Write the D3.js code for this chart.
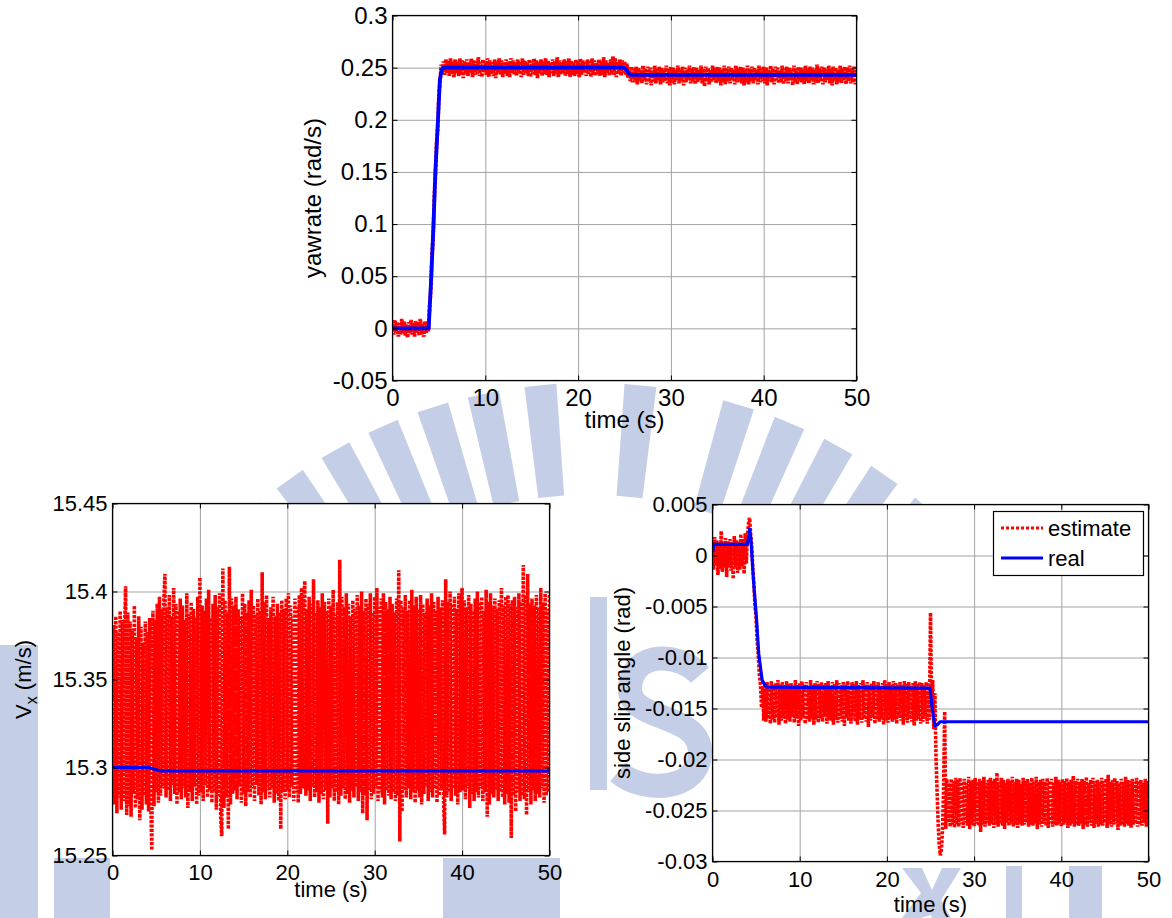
<!DOCTYPE html>
<html>
<head>
<meta charset="utf-8">
<script src="https://cdn.jsdelivr.net/npm/d3@7"></script>
<style>
  body { margin: 0; background: #fff; }
  svg { display: block; }
  text { font-family: Arial, "Liberation Sans", sans-serif; fill: #000; }
</style>
</head>
<body>
<svg id="fig" width="1172" height="918"></svg>
<script>
// ---- tick values ----
const timeTicks = [0, 10, 20, 30, 40, 50];
const yawTicks = [-0.05, 0, 0.05, 0.1, 0.15, 0.2, 0.25, 0.3];
const vxTicks = [15.25, 15.3, 15.35, 15.4, 15.45];
const slipTicks = [-0.03, -0.025, -0.02, -0.015, -0.01, -0.005, 0, 0.005];

// estimates are sampled every 0.125 s from 0 to 50 s (one row = 2 s)

// ---- yaw rate (rad/s) ----
const yawRealTime = [0, 3.9, 4.18, 4.42, 4.62, 4.9, 5.1, 5.3, 5.5, 24.9, 25.2, 25.5, 25.7, 50];
const yawRealValue = [0, 0, 0.05, 0.1, 0.15, 0.2, 0.238, 0.248, 0.25, 0.25, 0.248, 0.244, 0.243, 0.243];
const yawEstimate = [
  0.004,-0.006,0.008,-0.004,0.006,-0.008,0.005,-0.006,0.009,-0.005,0.007,-0.007,0.004,-0.009,0.006,-0.005,
  0.008,-0.006,0.005,-0.008,0.007,-0.004,0.006,-0.007,0.009,-0.006,0.004,-0.008,0.007,-0.005,0.006,-0.003,
  0.022,0.036,0.069,0.086,0.124,0.147,0.177,0.192,0.223,0.236,0.253,0.244,0.256,0.243,0.258,0.245,
  0.257,0.242,0.259,0.244,0.256,0.241,0.258,0.245,0.255,0.242,0.259,0.243,0.257,0.240,0.256,0.244,
  0.258,0.242,0.255,0.245,0.259,0.241,0.257,0.243,0.256,0.244,0.260,0.242,0.255,0.241,0.258,0.245,
  0.256,0.243,0.259,0.241,0.257,0.244,0.255,0.242,0.258,0.240,0.256,0.245,0.259,0.243,0.257,0.241,
  0.255,0.244,0.258,0.242,0.256,0.241,0.259,0.245,0.257,0.243,0.255,0.242,0.258,0.244,0.256,0.241,
  0.259,0.243,0.257,0.245,0.255,0.242,0.258,0.241,0.256,0.244,0.259,0.243,0.257,0.240,0.255,0.245,
  0.258,0.242,0.256,0.244,0.259,0.243,0.257,0.241,0.255,0.245,0.258,0.242,0.256,0.244,0.260,0.241,
  0.257,0.243,0.255,0.245,0.258,0.242,0.256,0.244,0.259,0.241,0.257,0.243,0.255,0.242,0.258,0.244,
  0.256,0.241,0.259,0.243,0.257,0.245,0.255,0.242,0.258,0.244,0.256,0.241,0.259,0.243,0.257,0.242,
  0.255,0.244,0.258,0.242,0.256,0.243,0.260,0.241,0.257,0.245,0.255,0.242,0.258,0.244,0.261,0.243,
  0.259,0.241,0.256,0.244,0.258,0.242,0.257,0.245,0.256,0.243,0.254,0.240,0.250,0.237,0.251,0.236,
  0.249,0.236,0.251,0.234,0.250,0.237,0.248,0.235,0.252,0.238,0.249,0.234,0.251,0.236,0.250,0.233,
  0.248,0.237,0.252,0.235,0.249,0.238,0.251,0.234,0.250,0.236,0.248,0.237,0.252,0.235,0.249,0.233,
  0.251,0.236,0.250,0.234,0.248,0.238,0.252,0.235,0.249,0.237,0.251,0.233,0.250,0.236,0.248,0.238,
  0.252,0.235,0.249,0.237,0.251,0.234,0.250,0.236,0.248,0.238,0.252,0.235,0.249,0.232,0.251,0.237,
  0.250,0.234,0.248,0.236,0.252,0.238,0.249,0.235,0.251,0.237,0.250,0.233,0.248,0.236,0.252,0.234,
  0.249,0.237,0.251,0.235,0.250,0.238,0.248,0.234,0.252,0.236,0.249,0.237,0.251,0.235,0.250,0.233,
  0.248,0.236,0.252,0.234,0.249,0.237,0.251,0.235,0.250,0.238,0.248,0.234,0.252,0.236,0.249,0.237,
  0.251,0.235,0.250,0.233,0.248,0.237,0.252,0.236,0.249,0.234,0.251,0.238,0.250,0.235,0.248,0.236,
  0.252,0.234,0.249,0.237,0.251,0.235,0.250,0.238,0.248,0.233,0.252,0.236,0.249,0.234,0.251,0.237,
  0.250,0.236,0.248,0.234,0.252,0.237,0.249,0.235,0.251,0.238,0.250,0.234,0.248,0.236,0.253,0.235,
  0.249,0.237,0.251,0.234,0.250,0.236,0.248,0.238,0.252,0.235,0.249,0.233,0.251,0.237,0.250,0.234,
  0.248,0.236,0.252,0.235,0.249,0.238,0.251,0.234,0.250,0.237,0.252,0.235,0.249,0.236,0.251,0.234,
  0.250
];

// ---- longitudinal speed Vx (m/s) ----
const vxRealTime = [0, 4.2, 4.8, 5.5, 50];
const vxRealValue = [15.300, 15.300, 15.299, 15.298, 15.298];
const vxEstimate = [
  15.338,15.381,15.279,15.386,15.274,15.377,15.283,15.389,15.276,15.384,15.281,15.375,15.403,15.273,15.388,15.278,
  15.383,15.272,15.379,15.285,15.392,15.277,15.374,15.282,15.386,15.270,15.380,15.276,15.371,15.284,15.383,15.279,
  15.377,15.275,15.385,15.281,15.253,15.389,15.278,15.384,15.286,15.393,15.280,15.397,15.284,15.390,15.288,15.395,
  15.410,15.283,15.391,15.287,15.398,15.281,15.386,15.290,15.402,15.285,15.393,15.279,15.389,15.286,15.396,15.282,
  15.392,15.288,15.384,15.283,15.399,15.277,15.387,15.286,15.394,15.281,15.390,15.289,15.385,15.279,15.397,15.284,
  15.408,15.286,15.392,15.281,15.389,15.290,15.396,15.283,15.401,15.287,15.385,15.280,15.393,15.286,15.398,15.276,
  15.391,15.284,15.399,15.272,15.261,15.413,15.277,15.395,15.283,15.388,15.265,15.414,15.279,15.396,15.285,15.392,
  15.287,15.397,15.282,15.390,15.289,15.386,15.280,15.399,15.285,15.393,15.278,15.388,15.286,15.395,15.283,15.401,
  15.288,15.392,15.281,15.387,15.290,15.396,15.284,15.389,15.279,15.411,15.286,15.394,15.282,15.398,15.287,15.385,
  15.283,15.391,15.288,15.397,15.280,15.386,15.285,15.393,15.281,15.388,15.265,15.395,15.286,15.390,15.282,15.396,
  15.287,15.399,15.283,15.392,15.289,15.386,15.281,15.396,15.286,15.391,15.280,15.398,15.285,15.402,15.288,15.394,
  15.406,15.284,15.390,15.287,15.397,15.281,15.393,15.289,15.407,15.283,15.388,15.286,15.395,15.280,15.391,15.285,
  15.399,15.282,15.394,15.287,15.389,15.268,15.396,15.283,15.392,15.288,15.401,15.281,15.387,15.286,15.394,15.279,
  15.418,15.284,15.397,15.288,15.391,15.282,15.399,15.285,15.393,15.280,15.386,15.287,15.395,15.283,15.390,15.289,
  15.398,15.281,15.392,15.286,15.400,15.274,15.389,15.284,15.396,15.270,15.393,15.287,15.399,15.282,15.388,15.285,
  15.397,15.288,15.402,15.281,15.391,15.286,15.396,15.283,15.399,15.279,15.394,15.287,15.390,15.284,15.397,15.282,
  15.393,15.286,15.388,15.281,15.396,15.284,15.412,15.258,15.395,15.275,15.391,15.287,15.398,15.283,15.389,15.288,
  15.395,15.282,15.401,15.286,15.392,15.280,15.397,15.287,15.390,15.283,15.398,15.279,15.393,15.285,15.388,15.289,
  15.396,15.281,15.392,15.286,15.399,15.283,15.394,15.288,15.389,15.280,15.397,15.284,15.391,15.287,15.395,15.282,
  15.262,15.407,15.283,15.394,15.286,15.400,15.281,15.393,15.288,15.397,15.284,15.390,15.279,15.399,15.286,15.392,
  15.402,15.287,15.395,15.282,15.391,15.288,15.398,15.277,15.393,15.285,15.389,15.281,15.396,15.286,15.400,15.283,
  15.394,15.288,15.397,15.281,15.389,15.286,15.401,15.272,15.394,15.279,15.399,15.285,15.392,15.283,15.396,15.287,
  15.390,15.281,15.395,15.286,15.402,15.283,15.392,15.279,15.397,15.285,15.398,15.280,15.393,15.260,15.395,15.284,
  15.397,15.275,15.391,15.286,15.399,15.281,15.394,15.284,15.415,15.282,15.398,15.273,15.410,15.286,15.393,15.279,
  15.396,15.287,15.392,15.281,15.398,15.285,15.391,15.283,15.402,15.288,15.394,15.280,15.399,15.284,15.390,15.286,
  15.399
];

// ---- side slip angle (rad) ----
const slipRealTime = [0, 0.15, 4.0, 4.15, 4.27, 4.4, 4.73, 5.03, 5.3, 5.69, 6.0, 6.26, 24.94, 25.2, 25.5, 25.8, 26.1, 50];
const slipRealValue = [0.0003, 0.0011, 0.0011, 0.0018, 0.0026, 0.0016, -0.0028, -0.006, -0.0096, -0.0122, -0.0127, -0.0129, -0.013, -0.015, -0.0167, -0.0166, -0.0163, -0.0163];
const slipEstimate = [
  0.0012,-0.0014,0.0018,-0.0010,0.0015,-0.0019,0.0011,-0.0013,0.0024,-0.0016,0.0013,-0.0012,0.0017,-0.0021,0.0014,-0.0011,
  0.0016,-0.0015,0.0012,-0.0023,0.0019,-0.0012,0.0015,-0.0017,0.0013,-0.0014,0.0021,-0.0010,0.0016,-0.0018,0.0022,-0.0008,
  0.0018,0.0031,0.0037,0.0021,0.0010,-0.0013,-0.0028,-0.0050,-0.0061,-0.0084,-0.0098,-0.0117,-0.0126,-0.0149,-0.0128,-0.0162,
  -0.0126,-0.0163,-0.0124,-0.0160,-0.0128,-0.0165,-0.0123,-0.0161,-0.0127,-0.0164,-0.0125,-0.0159,-0.0122,-0.0166,-0.0126,-0.0162,
  -0.0124,-0.0160,-0.0127,-0.0165,-0.0123,-0.0161,-0.0126,-0.0163,-0.0125,-0.0158,-0.0128,-0.0164,-0.0122,-0.0160,-0.0127,-0.0167,
  -0.0125,-0.0162,-0.0123,-0.0159,-0.0126,-0.0165,-0.0124,-0.0161,-0.0128,-0.0163,-0.0122,-0.0160,-0.0127,-0.0166,-0.0125,-0.0161,
  -0.0123,-0.0164,-0.0126,-0.0160,-0.0124,-0.0163,-0.0127,-0.0158,-0.0125,-0.0165,-0.0123,-0.0161,-0.0128,-0.0162,-0.0124,-0.0166,
  -0.0126,-0.0161,-0.0122,-0.0164,-0.0125,-0.0160,-0.0127,-0.0163,-0.0124,-0.0167,-0.0126,-0.0159,-0.0123,-0.0162,-0.0128,-0.0165,
  -0.0124,-0.0160,-0.0126,-0.0163,-0.0123,-0.0166,-0.0127,-0.0161,-0.0125,-0.0164,-0.0122,-0.0160,-0.0126,-0.0163,-0.0124,-0.0168,
  -0.0127,-0.0162,-0.0125,-0.0159,-0.0123,-0.0165,-0.0126,-0.0161,-0.0124,-0.0163,-0.0128,-0.0160,-0.0125,-0.0166,-0.0122,-0.0162,
  -0.0126,-0.0164,-0.0124,-0.0160,-0.0127,-0.0163,-0.0123,-0.0161,-0.0125,-0.0165,-0.0126,-0.0159,-0.0124,-0.0162,-0.0127,-0.0166,
  -0.0123,-0.0161,-0.0126,-0.0164,-0.0124,-0.0160,-0.0128,-0.0163,-0.0125,-0.0167,-0.0123,-0.0162,-0.0126,-0.0160,-0.0124,-0.0165,
  -0.0125,-0.0163,-0.0127,-0.0160,-0.0124,-0.0165,-0.0126,-0.0161,-0.0056,-0.0150,-0.0122,-0.0170,-0.0135,-0.0195,-0.0230,-0.0262,
  -0.0283,-0.0294,-0.0288,-0.0270,-0.0229,-0.0153,-0.0268,-0.0219,-0.0262,-0.0223,-0.0266,-0.0219,-0.0264,-0.0221,-0.0267,-0.0218,
  -0.0264,-0.0220,-0.0266,-0.0218,-0.0263,-0.0222,-0.0267,-0.0219,-0.0262,-0.0223,-0.0265,-0.0217,-0.0268,-0.0221,-0.0264,-0.0220,
  -0.0266,-0.0218,-0.0263,-0.0222,-0.0265,-0.0219,-0.0271,-0.0221,-0.0264,-0.0217,-0.0266,-0.0223,-0.0262,-0.0220,-0.0265,-0.0218,
  -0.0263,-0.0221,-0.0267,-0.0219,-0.0264,-0.0213,-0.0266,-0.0222,-0.0263,-0.0218,-0.0265,-0.0220,-0.0268,-0.0223,-0.0262,-0.0219,
  -0.0265,-0.0221,-0.0263,-0.0217,-0.0266,-0.0222,-0.0264,-0.0219,-0.0267,-0.0220,-0.0263,-0.0224,-0.0265,-0.0218,-0.0264,-0.0221,
  -0.0262,-0.0219,-0.0266,-0.0223,-0.0264,-0.0218,-0.0265,-0.0221,-0.0263,-0.0217,-0.0268,-0.0222,-0.0264,-0.0220,-0.0266,-0.0219,
  -0.0263,-0.0222,-0.0265,-0.0218,-0.0267,-0.0221,-0.0262,-0.0219,-0.0266,-0.0223,-0.0264,-0.0217,-0.0265,-0.0220,-0.0263,-0.0222,
  -0.0266,-0.0219,-0.0264,-0.0221,-0.0262,-0.0218,-0.0267,-0.0222,-0.0265,-0.0220,-0.0263,-0.0216,-0.0266,-0.0221,-0.0264,-0.0219,
  -0.0265,-0.0222,-0.0263,-0.0219,-0.0268,-0.0221,-0.0264,-0.0217,-0.0266,-0.0223,-0.0262,-0.0220,-0.0265,-0.0218,-0.0267,-0.0221,
  -0.0263,-0.0220,-0.0266,-0.0222,-0.0264,-0.0218,-0.0265,-0.0221,-0.0262,-0.0219,-0.0267,-0.0215,-0.0264,-0.0222,-0.0266,-0.0220,
  -0.0264,-0.0218,-0.0263,-0.0221,-0.0269,-0.0223,-0.0265,-0.0219,-0.0264,-0.0222,-0.0266,-0.0217,-0.0263,-0.0220,-0.0265,-0.0221,
  -0.0267,-0.0219,-0.0264,-0.0222,-0.0263,-0.0218,-0.0266,-0.0221,-0.0264,-0.0220,-0.0265,-0.0223,-0.0262,-0.0219,-0.0266,-0.0221,
  -0.0264
];

const legendLabels = ["estimate", "real"];

const svg = d3.select("#fig");
const RED = "#ff0000", BLUE = "#0000ff", GRID = "#a3a3a3";

// ---- faint emblem printed behind the figures ----
const MARK = "#c4cee6";
const emblem = svg.append("g").attr("fill", MARK);
const rayAngles = [-41.5, -35.5, -29.5, -23.6, -17.7, -11.9, -5.5, 5.6, 16.7, 22.7, 28.7, 34.7, 40.7];
rayAngles.forEach(a => {
  emblem.append("path")
    .attr("d", "M-13,-405 L-16,-517 L16,-517 L13,-405 Z")
    .attr("transform", `translate(590,900) rotate(${a})`);
});
emblem.append("rect").attr("x", 0).attr("y", 645).attr("width", 38).attr("height", 273);
emblem.append("rect").attr("x", 54).attr("y", 858).attr("width", 56).attr("height", 60);
emblem.append("rect").attr("x", 443).attr("y", 858).attr("width", 117).attr("height", 60);
emblem.append("rect").attr("x", 590).attr("y", 597).attr("width", 17).attr("height", 193);
emblem.append("path").attr("fill", "none").attr("stroke", MARK).attr("stroke-width", 24)
  .attr("d", "M700,675 C680,652 632,650 630,688 C628,722 700,712 700,752 C700,790 645,795 618,772");
emblem.append("path").attr("d", "M902,868 L922,868 L932,890 L942,868 L961,868 L941,900 L951,918 L932,918 L931,915 L921,918 L902,918 L921,893 Z");
emblem.append("rect").attr("x", 1006).attr("y", 866).attr("width", 16).attr("height", 52);
emblem.append("rect").attr("x", 1069).attr("y", 866).attr("width", 33).attr("height", 52);

function drawPanel(p, idx) {
  const x = d3.scaleLinear().domain([0, 50]).range([p.left, p.right]);
  const y = d3.scaleLinear().domain(p.yDomain).range([p.bottom, p.top]);
  const w = p.right - p.left, h = p.bottom - p.top;
  const g = svg.append("g");

  g.append("rect").attr("x", p.left).attr("y", p.top).attr("width", w).attr("height", h).attr("fill", "#fff");

  // grid lines
  g.append("g").attr("transform", `translate(0,${p.bottom})`)
    .call(d3.axisBottom(x).tickValues(timeTicks).tickSize(-h).tickFormat(""))
    .call(s => { s.select(".domain").remove(); s.selectAll("line").attr("stroke", GRID); });
  g.append("g").attr("transform", `translate(${p.left},0)`)
    .call(d3.axisLeft(y).tickValues(p.yTicks).tickSize(-w).tickFormat(""))
    .call(s => { s.select(".domain").remove(); s.selectAll("line").attr("stroke", GRID); });

  const clipId = "clip" + idx;
  g.append("clipPath").attr("id", clipId).append("rect")
    .attr("x", p.left).attr("y", p.top).attr("width", w).attr("height", h);

  const step = 50 / (p.est.length - 1);
  g.append("path").datum(p.est)
    .attr("clip-path", `url(#${clipId})`)
    .attr("d", d3.line().x((d, i) => x(i * step)).y(d => y(d)))
    .attr("fill", "none").attr("stroke", RED).attr("stroke-width", p.redW)
    .attr("stroke-dasharray", "3,1.4");

  g.append("path").datum(d3.zip(p.realT, p.realV))
    .attr("clip-path", `url(#${clipId})`)
    .attr("d", d3.line().x(d => x(d[0])).y(d => y(d[1])))
    .attr("fill", "none").attr("stroke", BLUE).attr("stroke-width", p.blueW)
    .attr("stroke-linejoin", "round");

  // axes with inward ticks on all four sides
  const fmt = d => String(d);
  const styleAxis = s => {
    s.select(".domain").remove();
    s.selectAll("line").attr("stroke", "#000");
    s.selectAll("text").attr("font-size", p.font).attr("font-family", "Arial, 'Liberation Sans', sans-serif").attr("fill", "#000");
  };
  g.append("g").attr("transform", `translate(0,${p.bottom})`)
    .call(d3.axisBottom(x).tickValues(timeTicks).tickSize(-5).tickPadding(p.xPad).tickFormat(fmt)).call(styleAxis);
  g.append("g").attr("transform", `translate(0,${p.top})`)
    .call(d3.axisTop(x).tickValues(timeTicks).tickSize(-5).tickFormat("")).call(styleAxis);
  g.append("g").attr("transform", `translate(${p.left},0)`)
    .call(d3.axisLeft(y).tickValues(p.yTicks).tickSize(-5).tickPadding(5).tickFormat(fmt)).call(styleAxis);
  g.append("g").attr("transform", `translate(${p.right},0)`)
    .call(d3.axisRight(y).tickValues(p.yTicks).tickSize(-5).tickFormat("")).call(styleAxis);

  g.append("rect").attr("x", p.left).attr("y", p.top).attr("width", w).attr("height", h)
    .attr("fill", "none").attr("stroke", "#000").attr("stroke-width", 1.2);

  // axis titles
  g.append("text").attr("x", (p.left + p.right) / 2).attr("y", p.xTitleY)
    .attr("text-anchor", "middle").attr("font-size", p.font).text("time (s)");
  const yt = g.append("text")
    .attr("transform", `translate(${p.yTitleX},${(p.top + p.bottom) / 2}) rotate(-90)`)
    .attr("text-anchor", "middle").attr("font-size", p.font);
  p.yTitle(yt);

  return { x, y, g };
}

const panels = [
  { left: 392.5, right: 856.5, top: 15.5, bottom: 380.5, yDomain: [-0.05, 0.3], yTicks: yawTicks,
    est: yawEstimate, realT: yawRealTime, realV: yawRealValue, redW: 3.8, blueW: 3.8,
    font: 24, xPad: 8, xTitleY: 428, yTitleX: 321,
    yTitle: t => t.text("yawrate (rad/s)") },
  { left: 112.5, right: 549.5, top: 503.5, bottom: 855.5, yDomain: [15.25, 15.45], yTicks: vxTicks,
    est: vxEstimate, realT: vxRealTime, realV: vxRealValue, redW: 3.6, blueW: 3.2,
    font: 22, xPad: 9, xTitleY: 897, yTitleX: 31,
    yTitle: t => { t.append("tspan").text("V"); t.append("tspan").attr("font-size", 16).attr("dy", 6).text("x");
                   t.append("tspan").attr("dy", -6).text(" (m/s)"); } },
  { left: 712.5, right: 1148.5, top: 504.5, bottom: 861.5, yDomain: [-0.03, 0.005], yTicks: slipTicks,
    est: slipEstimate, realT: slipRealTime, realV: slipRealValue, redW: 3.6, blueW: 3.2,
    font: 22, xPad: 10, xTitleY: 912, yTitleX: 630,
    yTitle: t => t.text("side slip angle (rad)") }
];

panels.forEach((p, i) => {
  const r = drawPanel(p, i);
  if (i === 2) {
    // legend
    const lg = r.g.append("g");
    lg.append("rect").attr("x", 993.5).attr("y", 511.5).attr("width", 150).attr("height", 64)
      .attr("fill", "#fff").attr("stroke", "#000").attr("stroke-width", 1.2);
    const rows = [
      { label: legendLabels[0], color: RED, dash: "3,2", cy: 528 },
      { label: legendLabels[1], color: BLUE, dash: null, cy: 558 }
    ];
    rows.forEach(rw => {
      lg.append("line").attr("x1", 1001).attr("x2", 1043).attr("y1", rw.cy).attr("y2", rw.cy)
        .attr("stroke", rw.color).attr("stroke-width", 3).attr("stroke-dasharray", rw.dash);
      lg.append("text").attr("x", 1048).attr("y", rw.cy + 8).attr("font-size", 22).text(rw.label);
    });
  }
});
</script>
</body>
</html>
